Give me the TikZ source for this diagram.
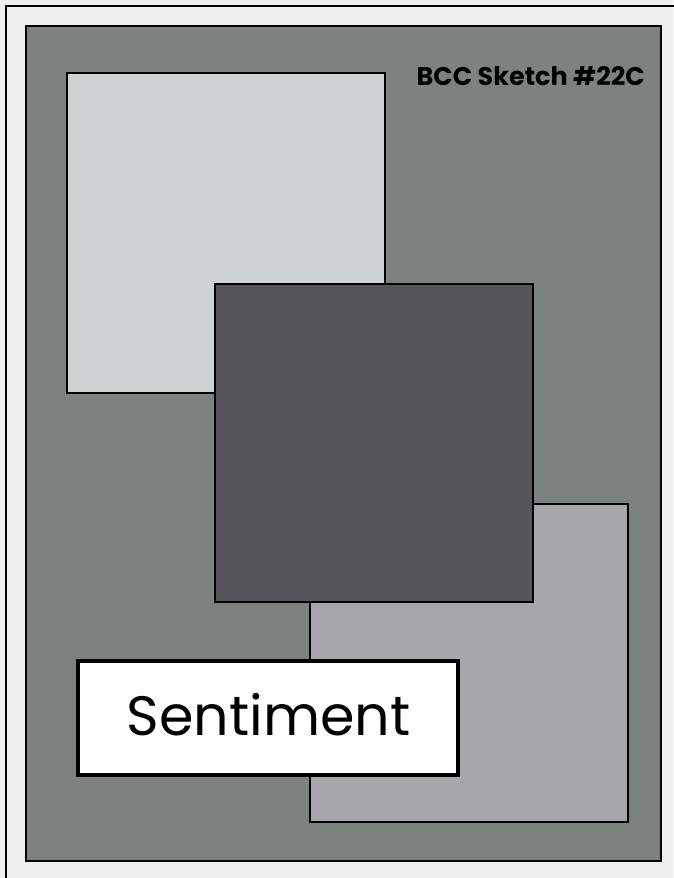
\documentclass[tikz,border=0pt]{standalone}
\usepackage{fontspec}
\setmainfont{Poppins}
\definecolor{outerbg}{HTML}{EFEFEF}
\definecolor{panel}{HTML}{7D8281}
\definecolor{lightc}{HTML}{CDD3D3}
\definecolor{darkc}{HTML}{56555A}
\definecolor{medc}{HTML}{A7A6AA}
\tikzset{
  card/.style={draw=black, line width=1.6pt},
}
\begin{document}
\begin{tikzpicture}[x=1pt,y=-1pt]
\useasboundingbox (0,0) rectangle (673,878);
\fill[outerbg] (0,0) rectangle (673,878);
\draw[line width=2.2pt] (6,880) -- (6,6) -- (675,6);
\draw[card, fill=panel, line width=2.5pt] (26,26) rectangle (661,861);
\draw[card, fill=lightc] (67,73) rectangle (385,393);
\draw[card, fill=medc] (310,504) rectangle (628,822);
\draw[card, fill=darkc] (215,284) rectangle (533,602);
\draw[fill=white, draw=black, line width=4pt] (78,661) rectangle (458,775);
\node[inner sep=0pt] (sent) at (268.5,715) {\fontsize{55.5}{60}\selectfont Sentiment};
\node[anchor=east, inner sep=0pt] (title) at (645,76) {\fontsize{25.5}{30}\selectfont\bfseries BCC Sketch \#22C};
\end{tikzpicture}
\end{document}
